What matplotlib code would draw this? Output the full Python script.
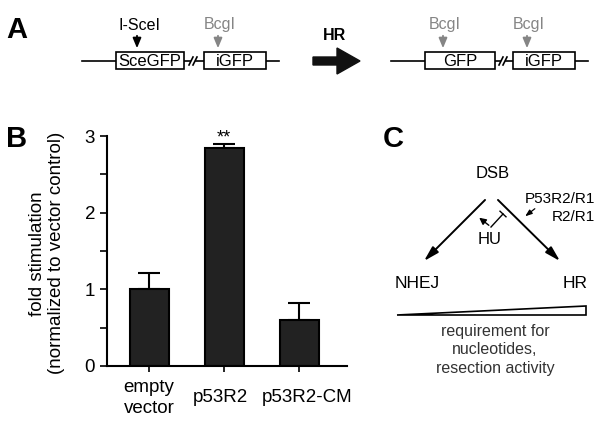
import matplotlib.pyplot as plt
import matplotlib.patches as mpatches
from matplotlib.transforms import ScaledTranslation

plt.rcParams['font.family'] = ['Liberation Sans', 'DejaVu Sans']

# panel B data
categories = ['empty\nvector', 'p53R2', 'p53R2-CM']
values = [1.0, 2.85, 0.60]
errors = [0.21, 0.04, 0.22]
y_ticks = [0, 1, 2, 3]

# panel A labels
before_boxes = ['SceGFP', 'iGFP']
after_boxes = ['GFP', 'iGFP']

GREY = '#858585'

fig = plt.figure(figsize=(6.02, 4.21), dpi=100)

# overlay in pixel coordinates for the diagrams
ov = fig.add_axes([0, 0, 1, 1])
ov.set_xlim(0, 602)
ov.set_ylim(421, 0)
ov.axis('off')

# panel letters
for letter, x, y in [('A', 17, 30), ('B', 17, 139), ('C', 393, 139)]:
    ov.text(x, y, letter, fontsize=21, fontweight='bold', ha='center', va='center')


def construct(x0, x1, boxes, brk):
    # backbone line with two boxes and a break mark
    yc = 61
    ov.plot([x0, boxes[0][0]], [yc, yc], color='black', lw=1.2)
    ov.plot([boxes[0][1], brk - 3], [yc, yc], color='black', lw=1.2)
    ov.plot([brk + 3, boxes[1][0]], [yc, yc], color='black', lw=1.2)
    ov.plot([boxes[1][1], x1], [yc, yc], color='black', lw=1.2)
    for dx in (-2, 2):
        ov.plot([brk + dx - 2, brk + dx + 2], [yc + 4, yc - 4], color='black', lw=1.2)
    for (bx0, bx1, label) in boxes:
        ov.add_patch(mpatches.Rectangle((bx0, 52), bx1 - bx0, 17, facecolor='white',
                                        edgecolor='black', lw=1.2, zorder=3))
        ov.text((bx0 + bx1) / 2, 61, label, ha='center', va='center', fontsize=12, zorder=4)


def site(x, label, color):
    ov.text(x + 2, 25, label, ha='center', va='center', fontsize=11.5, color=color)
    ov.annotate('', xy=(x, 51), xytext=(x, 33),
                arrowprops=dict(arrowstyle='-|>,head_length=0.6,head_width=0.25',
                                color=color, lw=1.3))


construct(82, 279, [(116, 184, before_boxes[0]), (204, 266, before_boxes[1])], 193)
site(137, 'I-SceI', 'black')
site(218, 'BcgI', GREY)

ov.text(334, 35, 'HR', ha='center', va='center', fontsize=11.5, fontweight='bold')
ov.add_patch(mpatches.FancyArrow(313, 61, 24, 0, width=8, head_width=26, head_length=23,
                                 color='#111111', length_includes_head=False))

construct(391, 588, [(425, 495, after_boxes[0]), (513, 575, after_boxes[1])], 503)
site(443, 'BcgI', GREY)
site(527, 'BcgI', GREY)

# panel C
arrow_kw = dict(arrowstyle='-|>,head_length=0.9,head_width=0.25', color='black', lw=1.4)
ov.text(493, 173, 'DSB', ha='center', va='center', fontsize=12)
ov.annotate('', xy=(422, 263), xytext=(487, 198), arrowprops=arrow_kw)
ov.annotate('', xy=(562, 263), xytext=(496, 198), arrowprops=arrow_kw)
ov.text(595, 199, 'P53R2/R1', ha='right', va='center', fontsize=11)
ov.text(595, 217, 'R2/R1', ha='right', va='center', fontsize=11)
ov.annotate('', xy=(523, 218), xytext=(537, 207),
            arrowprops=dict(arrowstyle='-|>,head_length=0.4,head_width=0.15', color='black', lw=0.9))
ov.text(490, 239, 'HU', ha='center', va='center', fontsize=12)
ov.annotate('', xy=(477, 216), xytext=(491, 227),
            arrowprops=dict(arrowstyle='-|>,head_length=0.4,head_width=0.2', color='black', lw=1.0))
ov.plot([491, 503], [227, 214], color='black', lw=1.0)
ov.plot([503 - 3, 503 + 3], [214 - 2.8, 214 + 2.8], color='black', lw=1.0)
ov.text(417, 284, 'NHEJ', ha='center', va='center', fontsize=12.5)
ov.text(575, 284, 'HR', ha='center', va='center', fontsize=12.5)
ov.add_patch(mpatches.Polygon([(397, 315), (586, 306), (586, 315)], closed=True,
                              facecolor='white', edgecolor='black', lw=1.2))
ov.text(495, 350, 'requirement for\nnucleotides,\nresection activity', ha='center', va='center',
        fontsize=11.5, color='#333333', linespacing=1.3)

# panel B bar chart
ax = fig.add_axes([107 / 602, (421 - 366) / 421, (347 - 107) / 602, (366 - 136) / 421])
x = list(range(len(categories)))
ax.bar(x, values, width=0.52, color='#222222', edgecolor='black', linewidth=1.5, zorder=2)
ax.errorbar(x, values, yerr=[[0] * len(errors), errors], fmt='none', ecolor='black',
            elinewidth=1.5, capsize=8, capthick=1.5, zorder=1)
ax.text(1, values[1] + errors[1] + 0.08, '**', ha='center', va='center', fontsize=13)
ax.set_xlim(-0.56, 2.64)
ax.set_ylim(0, 3)
ax.set_yticks(y_ticks)
ax.set_yticks([0.5, 1.5, 2.5], minor=True)
ax.set_xticks(x)
ax.set_xticklabels(categories, fontsize=13.5, va='center', linespacing=1.25)
ax.tick_params(axis='x', pad=18.5, length=4.5, width=1.2)
ax.tick_params(axis='y', which='both', length=5, width=1.2, labelsize=13.5)
# nudge the two right labels apart as in the original
for lab, dx in zip(ax.get_xticklabels(), [0, -4, 8]):
    lab.set_transform(lab.get_transform() + ScaledTranslation(dx / 100, 0, fig.dpi_scale_trans))
ax.spines['top'].set_visible(False)
ax.spines['right'].set_visible(False)
for s in ('left', 'bottom'):
    ax.spines[s].set_linewidth(1.5)
ax.set_ylabel('fold stimulation\n(normalized to vector control)', fontsize=13.5, linespacing=1.15)
ax.yaxis.set_label_coords(-0.175, 0.49)

fig.savefig('out.png', dpi=100)
